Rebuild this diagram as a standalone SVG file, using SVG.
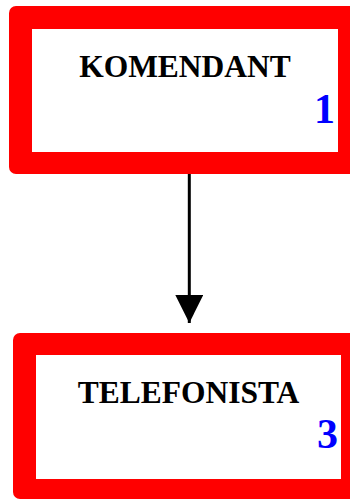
<svg xmlns="http://www.w3.org/2000/svg" width="350" height="499" viewBox="0 0 350 499">
<defs>
<style>
.frame{fill:#ff0000}
.inner{fill:#ffffff}
.title{font-family:"Liberation Serif","Times New Roman",serif;font-weight:bold;font-size:31.5px;fill:#000;text-anchor:middle}
.num{font-family:"Liberation Serif","Times New Roman",serif;font-weight:bold;font-size:42px;fill:#0000ff;text-anchor:end}
.conn{stroke:#000;stroke-width:3;fill:none}
</style>
<marker id="arrow" markerUnits="userSpaceOnUse" markerWidth="28" markerHeight="28" refX="28" refY="14" orient="auto" viewBox="0 0 28 28">
<path d="M0,0 L28,14 L0,28 Z" fill="#000"/>
</marker>
</defs>
<rect width="350" height="499" fill="#fff"/>
<g id="node1">
<rect class="frame" x="9" y="6" width="352" height="168" rx="7"/>
<rect class="inner" x="32" y="29" width="306" height="123"/>
<text class="title" x="185" y="77">KOMENDANT</text>
<text class="num" x="335" y="123">1</text>
</g>
<g id="node3">
<rect class="frame" x="13" y="333" width="352" height="166" rx="7"/>
<rect class="inner" x="36" y="355" width="305" height="124"/>
<text class="title" x="188.5" y="403">TELEFONISTA</text>
<text class="num" x="338" y="448">3</text>
</g>
<g id="connectors">
<line class="conn" x1="189.3" y1="174" x2="189.3" y2="323" marker-end="url(#arrow)"/>
</g>
</svg>
